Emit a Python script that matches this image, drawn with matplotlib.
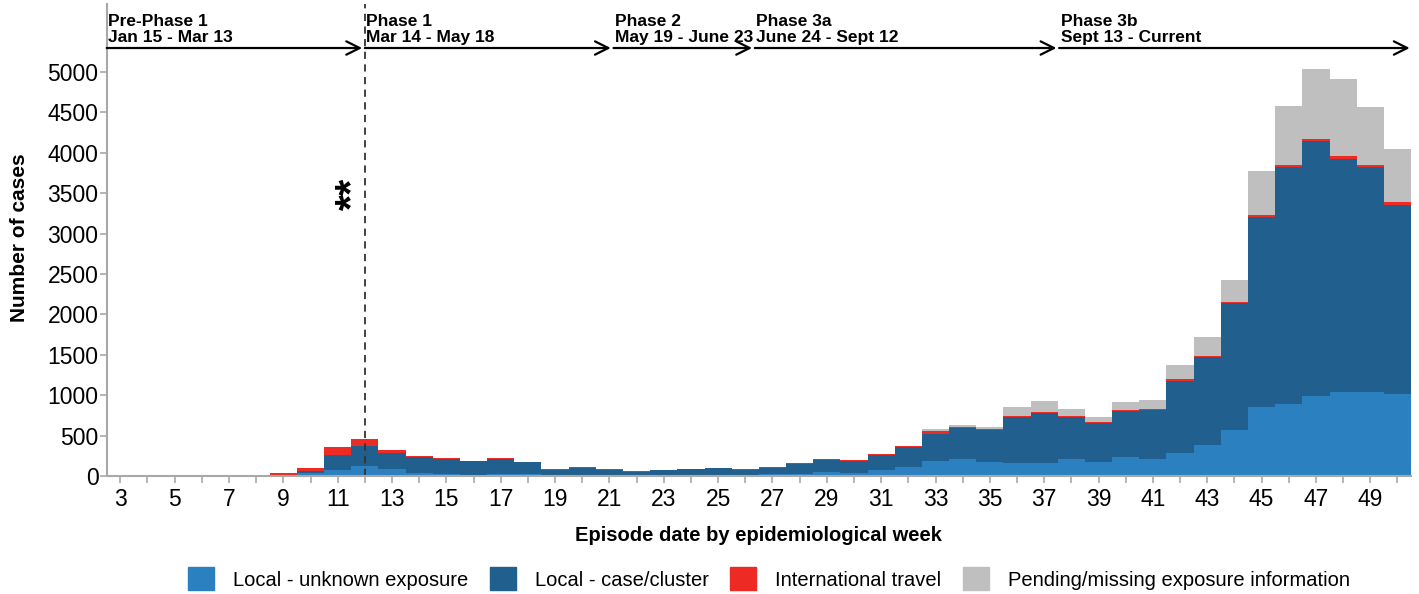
import matplotlib
matplotlib.use("Agg")
from matplotlib import pyplot as plt
from matplotlib.patches import Patch
import numpy as np

plt.rcParams['font.family'] = ['Liberation Sans', 'DejaVu Sans']

# epidemiological weeks shown on the x axis
weeks = list(range(3, 51))

# cases per week by exposure category
local_unknown = [0, 0, 2, 0, 0, 0, 10, 37, 74, 128, 83, 41, 25, 16, 30, 20, 15, 15,
                 12, 10, 12, 15, 15, 15, 20, 30, 50, 41, 70, 115, 189, 214, 169, 165,
                 161, 206, 177, 235, 206, 285, 380, 569, 858, 891, 994, 1044, 1044, 1015]
local_cluster = [0, 0, 1, 0, 0, 0, 6, 25, 182, 243, 202, 192, 181, 164, 182, 147, 65, 88,
                 63, 45, 58, 71, 78, 63, 82, 120, 148, 149, 186, 240, 335, 380, 401, 561,
                 615, 524, 475, 565, 607, 895, 1090, 1572, 2351, 2933, 3156, 2879, 2780, 2339]
travel = [0, 0, 1, 0, 4, 0, 25, 33, 107, 87, 37, 15, 13, 6, 7, 6, 3, 4,
          8, 3, 4, 5, 6, 5, 5, 7, 8, 8, 22, 16, 33, 16, 12, 20,
          20, 16, 16, 17, 16, 17, 15, 16, 25, 25, 25, 37, 25, 33]
pending = [0, 0, 0, 0, 0, 0, 0, 0, 0, 0, 0, 0, 0, 0, 0, 0, 0, 0,
           0, 0, 0, 0, 0, 0, 0, 0, 0, 0, 0, 0, 21, 17, 22, 104,
           132, 83, 62, 95, 107, 173, 235, 273, 537, 734, 862, 949, 713, 664]

series_names = ["Local - unknown exposure", "Local - case/cluster",
                "International travel", "Pending/missing exposure information"]
series_colors = ["#2b80c0", "#215f8e", "#ee2a24", "#bfbfbf"]

# public health phases (labels and week spans)
phase_labels = ["Pre-Phase 1\nJan 15 - Mar 13", "Phase 1\nMar 14 - May 18",
                "Phase 2\nMay 19 - June 23", "Phase 3a\nJune 24 - Sept 12",
                "Phase 3b\nSept 13 - Current"]
phase_start = [2.5, 12.0, 21.15, 26.35, 37.55]
phase_end = [11.9, 21.05, 26.25, 37.45, 50.45]

fig = plt.figure(figsize=(14.19, 5.94), dpi=100)
ax = fig.add_axes([0.0752, 0.1987, 0.9944 - 0.0752, 0.9933 - 0.1987])

bottom = np.zeros(len(weeks))
for vals, name, col in zip([local_unknown, local_cluster, travel, pending],
                           series_names, series_colors):
    ax.bar(weeks, vals, width=1.0, bottom=bottom, color=col, linewidth=0, label=name)
    bottom += np.array(vals)

ax.set_xlim(2.5, 50.5)
ax.set_ylim(0, 5842)
ax.set_yticks(np.arange(0, 5001, 500))
ax.set_xticks(weeks)
ax.set_xticklabels([str(w) if w % 2 == 1 else "" for w in weeks])
ax.tick_params(axis='both', labelsize=16.5, color='#a8a8a8', length=5, width=1.2)
ax.tick_params(axis='y', pad=1)
ax.tick_params(axis='x', pad=4)

for s in ['top', 'right']:
    ax.spines[s].set_visible(False)
for s in ['left', 'bottom']:
    ax.spines[s].set_color('#a8a8a8')
    ax.spines[s].set_linewidth(1.5)

ax.set_xlabel("Episode date by epidemiological week", fontsize=14.5, fontweight='bold')
ax.xaxis.set_label_coords(0.5, -0.106)
ax.set_ylabel("Number of cases", fontsize=15, fontweight='bold')
ax.yaxis.set_label_coords(-0.0597, 0.505)

# start of phase 1
ax.axvline(12, color='#333333', lw=1.3, ls=(0, (4, 3)))
ax.text(11.55, 3490, "**", rotation=90, fontsize=30, fontweight='bold',
        ha='center', va='center')

arrow_y = 5297
for lab, s, e in zip(phase_labels, phase_start, phase_end):
    ax.annotate('', xy=(e, arrow_y), xytext=(s, arrow_y), annotation_clip=False,
                arrowprops=dict(arrowstyle='->', lw=1.6, color='black',
                                shrinkA=0, shrinkB=0, mutation_scale=24))
    ax.text(s + 0.06, 5335, lab, fontsize=12.5, fontweight='bold', ha='left',
            va='bottom', linespacing=1.1)

handles = [Patch(color=c) for c in series_colors]
fig.legend(handles, series_names, loc='lower left', bbox_to_anchor=(188 / 1419, 0.006),
           ncol=4, frameon=False, fontsize=14.5, handlelength=1.3, handleheight=1.4,
           handletextpad=0.95, columnspacing=1.05, borderpad=0, borderaxespad=0)

fig.savefig("out.png", dpi=100)
